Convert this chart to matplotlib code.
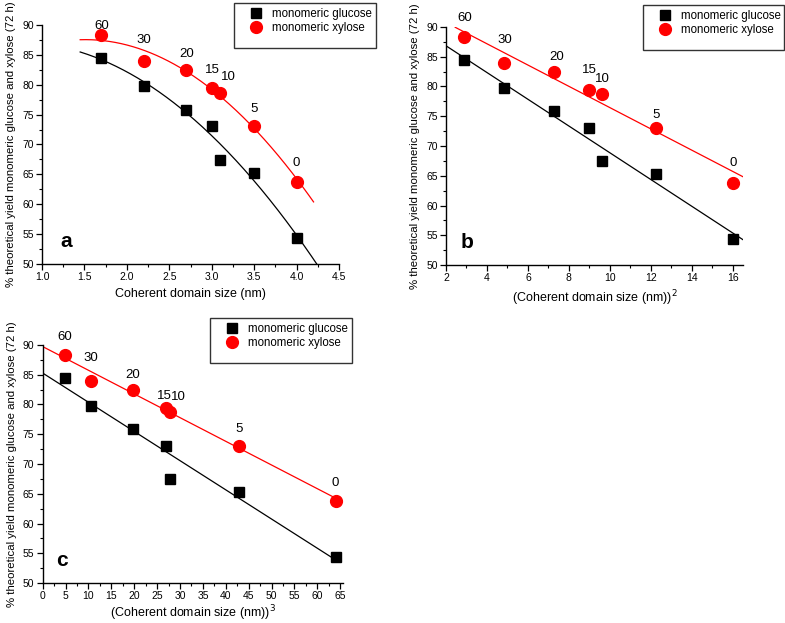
import numpy as np
import matplotlib
matplotlib.use("Agg")
import matplotlib.pyplot as plt
from matplotlib.patches import Rectangle
from matplotlib.ticker import MultipleLocator
from matplotlib.lines import Line2D

plt.rcParams['font.family'] = ['Liberation Sans', 'DejaVu Sans']

# Data
time_labels = ["60", "30", "20", "15", "10", "5", "0"]
size_nm = [1.7, 2.2, 2.7, 3.0, 3.1, 3.5, 4.0]
size_sq = [2.89, 4.84, 7.29, 9.0, 9.6, 12.25, 16.0]
size_cu = [4.9, 10.6, 19.7, 27.0, 27.9, 42.9, 64.0]
glucose = [84.5, 79.8, 75.8, 73.1, 67.4, 65.3, 54.4]
xylose = [88.3, 84.0, 82.4, 79.4, 78.7, 73.1, 63.8]

W, H = 785, 623
fig = plt.figure(figsize=(W / 100, H / 100), dpi=100)


def fax(x0, x1, ytop, ybot):
    return [x0 / W, 1 - ybot / H, (x1 - x0) / W, (ybot - ytop) / H]


panels = [
    dict(rect=fax(42, 339, 25, 264), x=size_nm, xlim=(1.0, 4.5), major=0.5, minor=0.25,
         deg=2, g_range=(1.45, 4.26), x_range=(1.45, 4.2), letter="a", lpos=(1.29, 53.7),
         xlabel="Coherent domain size (nm)", fmt="%.1f", xlp=4,
         offs=[(0, 9), (0, 21), (0, 16), (1, 18), (8, 16), (0, 17), (0, 19)],
         leg=(234, 376, 3, 48)),
    dict(rect=fax(446, 743, 27, 265), x=size_sq, xlim=(2, 16.5), major=2, minor=1,
         deg=1, g_range=(2, 16.5), x_range=(2.45, 16.5), letter="b", lpos=(3.05, 53.7),
         xlabel="(Coherent domain size (nm))$^2$", fmt="%d", xlp=4,
         offs=[(1, 19), (1, 23), (2, 15), (0, 20), (1, 15), (0, 13), (0, 20)],
         leg=(643, 784, 5, 50)),
    dict(rect=fax(42.7, 343, 345, 583), x=size_cu, xlim=(0, 65.6), major=5, minor=2.5,
         deg=1, g_range=(0, 64), x_range=(0, 64), letter="c", lpos=(4.3, 53.7),
         xlabel="(Coherent domain size (nm))$^3$", fmt="%d", xlp=1.5,
         offs=[(0, 18), (0, 23), (0, 15), (-2, 12), (8, 15), (0, 17), (0, 18)],
         leg=(210, 352, 318, 363)),
]

for p in panels:
    ax = fig.add_axes(p["rect"])
    x = np.array(p["x"])
    g = np.array(glucose)
    xy = np.array(xylose)
    # fits
    cg = np.polyfit(x, g, p["deg"])
    cx = np.polyfit(x, xy, p["deg"])
    xs = np.linspace(*p["g_range"], 200)
    ax.plot(xs, np.polyval(cg, xs), color="black", lw=0.9, zorder=2)
    xs2 = np.linspace(*p["x_range"], 200)
    ax.plot(xs2, np.polyval(cx, xs2), color="red", lw=0.9, zorder=2)
    ax.plot(x, g, ls="none", marker="s", ms=7.5, color="black", zorder=3)
    ax.plot(x, xy, ls="none", marker="o", ms=8.5, color="red", zorder=3)
    for xi, yi, lab, off in zip(x, xy, time_labels, p["offs"]):
        ax.annotate(lab, (xi, yi), xytext=(off[0] * 0.72, off[1] * 0.72),
                    textcoords="offset points", ha="center", va="center", fontsize=9.5)
    ax.text(p["lpos"][0], p["lpos"][1], p["letter"], fontsize=15, fontweight="bold",
            ha="center", va="center")
    ax.set_xlim(*p["xlim"])
    ax.set_ylim(50, 90)
    ax.xaxis.set_major_locator(MultipleLocator(p["major"]))
    ax.xaxis.set_minor_locator(MultipleLocator(p["minor"]))
    ax.yaxis.set_major_locator(MultipleLocator(5))
    ax.yaxis.set_minor_locator(MultipleLocator(2.5))
    ax.xaxis.set_major_formatter(matplotlib.ticker.FormatStrFormatter(p["fmt"]))
    for s in ["top", "right"]:
        ax.spines[s].set_visible(False)
    for s in ["left", "bottom"]:
        ax.spines[s].set_linewidth(1.0)
    ax.tick_params(which="major", direction="out", length=4, width=0.9, labelsize=7.5, pad=2)
    ax.tick_params(which="minor", direction="out", length=2.5, width=0.8)
    ax.set_xlabel(p["xlabel"], fontsize=9, labelpad=p["xlp"])
    ax.set_ylabel("% theoretical yield monomeric glucose and xylose (72 h)", fontsize=8.2,
                  labelpad=4)
    ax.set_facecolor("none")
    # legend box
    lx0, lx1, ly0, ly1 = p["leg"]
    fig.patches.append(Rectangle((lx0 / W, 1 - ly1 / H), (lx1 - lx0) / W, (ly1 - ly0) / H,
                                 transform=fig.transFigure, fill=False, edgecolor="#333333",
                                 lw=1.0))
    handles = [Line2D([], [], ls="none", marker="s", ms=7.5, color="black"),
               Line2D([], [], ls="none", marker="o", ms=8.5, color="red")]
    fig.legend(handles, ["monomeric glucose", "monomeric xylose"], loc="upper left",
               bbox_to_anchor=((lx0 + 8) / W, 1 - (ly0 - 3) / H), frameon=False,
               fontsize=8.3, handlelength=1.0, handletextpad=0.9, labelspacing=0.2,
               borderpad=0.2)

fig.savefig("out.png", dpi=100)
